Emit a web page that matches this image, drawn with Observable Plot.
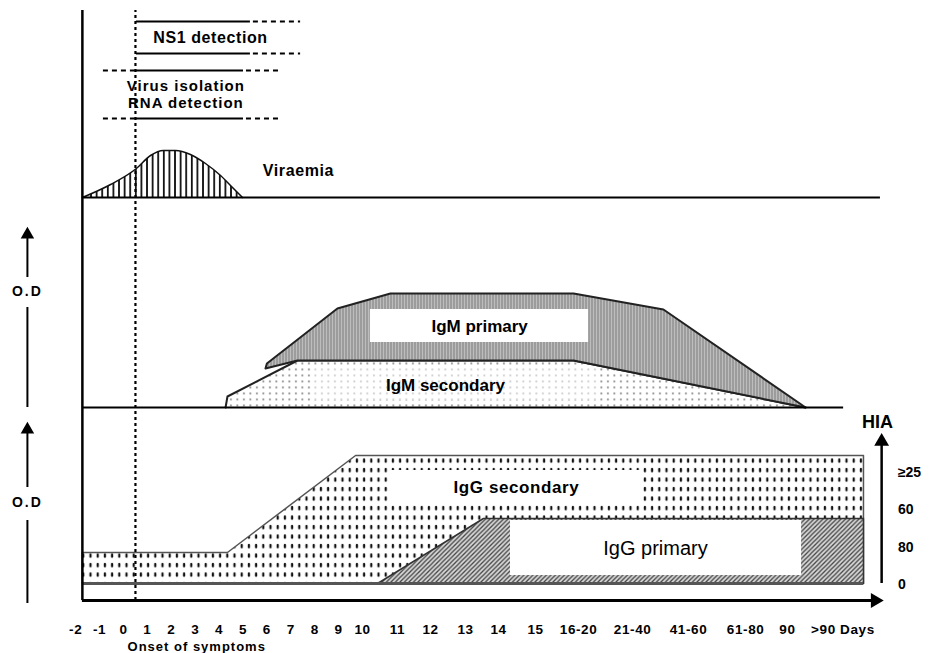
<!DOCTYPE html>
<html><head><meta charset="utf-8">
<script src="https://cdn.jsdelivr.net/npm/d3@7"></script>
<script src="https://cdn.jsdelivr.net/npm/@observablehq/plot@0.6"></script>
<style>
html,body{margin:0;padding:0;background:#fff;}
#chart svg{display:block;}
.wide text{letter-spacing:0.6px;}
.wide1 text{letter-spacing:1px;}
.wide2 text{letter-spacing:2px;}
</style></head>
<body>
<svg width="0" height="0" style="position:absolute">
<defs>
<pattern id="hVir" patternUnits="userSpaceOnUse" width="5.6" height="10"><rect width="5.6" height="10" fill="#fff"/><rect x="0" width="1.8" height="10" fill="#111"/></pattern>
<pattern id="hIgMp" patternUnits="userSpaceOnUse" width="3" height="10"><rect width="3" height="10" fill="#bdbdbd"/><rect width="1" height="10" fill="#7a7a7a"/></pattern>
<pattern id="hIgMs" patternUnits="userSpaceOnUse" width="6.5" height="6"><rect width="6.5" height="6" fill="#fff"/><rect x="2" y="2" width="1.8" height="1.8" fill="#8a8a8a"/></pattern>
<pattern id="hIgGs" patternUnits="userSpaceOnUse" width="7.2" height="9.5"><rect width="7.2" height="9.5" fill="#fff"/><rect x="2.5" y="2" width="2.2" height="4.2" rx="0.8" fill="#111"/></pattern>
<pattern id="hIgGp" patternUnits="userSpaceOnUse" width="4.5" height="4.5"><rect width="4.5" height="4.5" fill="#d8d8d8"/><path d="M-1,1 L1,-1 M0,4.5 L4.5,0 M3.5,5.5 L5.5,3.5" stroke="#444" stroke-width="1.3"/></pattern>
</defs></svg>
<div id="chart"></div>
<script>
// ---- x axis (day slots) ----
const dayLabels = ["-2","-1","0","1","2","3","4","5","6","7","8","9","10","11","12","13","14","15","16-20","21-40","41-60","61-80","90",">90 Days"];
const dayPos = [-2,-1,0,1,2,3,4,5,6,7,8,9,10,11.46,12.85,14.31,15.69,17.24,19.04,21.30,23.64,26.03,27.78,30.1];
const onsetDay = 0.5;

// ---- HIA titre axis ----
const hiaLabels = ["≥25","60","80","0"];
const hiaLevels = [12.8, 9.1, 5.3, 1.6];

// ---- panel baselines ----
const viraemiaBase = 40.3;
const igmBase = 19.3;
const iggBase = 1.7;

// ---- Viraemia ----
const viraemiaDay = [-1.72,-0.54,0.54,1.13,1.67,2.18,2.80,3.43,4.06,4.56,4.98];
const viraemiaOD  = [0,1.3,2.9,4.2,4.7,4.7,4.3,3.4,2.2,1.0,0];

// ---- IgM ----
const igmSecDay = [4.27,4.35,7.28,18.83,28.54];
const igmSecOD  = [0,1.1,4.7,4.7,0];
const igmPriTopDay = [5.94,6.0,8.95,11.17,18.83,22.59,28.54];
const igmPriTopOD  = [3.9,4.4,9.9,11.4,11.4,9.8,0];
const igmPriBotDay = [5.94,7.28,18.83,28.54];
const igmPriBotOD  = [3.9,4.7,4.7,0];

// ---- IgG ----
const iggSecDay = [-1.72,-1.72,4.35,9.71,30.96,30.96];
const iggSecLvl = [0,3.1,3.1,12.8,12.8,0];
const iggPriDay = [10.63,15.06,30.96,30.96];
const iggPriLvl = [0,6.5,6.5,0];

// ---- detection windows (solid = certain, dashed = possible) ----
const ns1Solid = [0.54,5.31], ns1Dash = [5.31,7.41], ns1Levels = [57.9,54.7];
const virSolid = [0.54,5.02], virDashL = [-0.84,0.54], virDashR = [5.02,6.65], virLevels = [53.0,48.2];

const pts = (xs, ys, base) => xs.map((x,i)=>({x, y: base + ys[i]}));
const igmPriPoly = pts(igmPriTopDay, igmPriTopOD, igmBase).concat(pts(igmPriBotDay, igmPriBotOD, igmBase).reverse());

const axX = -1.72, axTop = 59, xEnd = 31.67, hiaX = 31.72, odX = -4.02;
const lbl = (t, x, y, o={}) => Plot.text([t], {x: ()=>x, y: ()=>y, text: d=>d, fill:"#000", fontWeight:"bold", fontSize:16, ...o});

const marks = [
  // IgG
  Plot.line(pts(iggSecDay, iggSecLvl, iggBase), {x:"x", y:"y", fill:"url(#hIgGs)", stroke:"#555", strokeWidth:1.5, curve:"linear-closed"}),
  Plot.line(pts(iggPriDay, iggPriLvl, iggBase), {x:"x", y:"y", fill:"url(#hIgGp)", stroke:"#333", strokeWidth:1.5, curve:"linear-closed"}),
  Plot.rect([0], {x1:()=>11.17, x2:()=>21.63, y1:()=>9.7, y2:()=>13.0, fill:"#fff"}),
  Plot.rect([0], {x1:()=>16.19, x2:()=>28.37, y1:()=>2.5, y2:()=>8.0, fill:"#fff"}),
  Plot.ruleY([iggBase], {x1:axX, x2:30.96, stroke:"#555", strokeWidth:3}),
  // IgM
  Plot.line(pts(igmSecDay, igmSecOD, igmBase), {x:"x", y:"y", fill:"url(#hIgMs)", stroke:"#222", strokeWidth:2}),
  Plot.line(igmPriPoly, {x:"x", y:"y", fill:"url(#hIgMp)", stroke:"#222", strokeWidth:2, curve:"linear-closed"}),
  Plot.rect([0], {x1:()=>10.33, x2:()=>19.46, y1:()=>25.8, y2:()=>29.1, fill:"#fff"}),
  Plot.rect([0], {x1:()=>7.95, x2:()=>19.96, y1:()=>20.0, y2:()=>23.2, fill:"#fff", fillOpacity:0.55}),
  // Viraemia
  Plot.line(pts(viraemiaDay, viraemiaOD, viraemiaBase), {x:"x", y:"y", fill:"url(#hVir)", stroke:"#111", strokeWidth:1.5, curve:"monotone-x"}),
  // baselines
  Plot.ruleY([viraemiaBase], {x1:axX, x2:xEnd, stroke:"#000", strokeWidth:2}),
  Plot.ruleY([igmBase], {x1:axX, x2:30.13, stroke:"#000", strokeWidth:2}),
  // axes
  Plot.ruleX([axX], {y1:0, y2:axTop, stroke:"#000", strokeWidth:2.5}),
  Plot.ruleY([0], {x1:axX, x2:31.3, stroke:"#000", strokeWidth:3}),
  Plot.dot([0], {x:()=>31.45, y:()=>0, symbol:"triangle", r:5.5, fill:"#000", rotate:90}),
  Plot.ruleX([hiaX], {y1:iggBase, y2:15.8, stroke:"#000", strokeWidth:2.5}),
  Plot.dot([0], {x:()=>hiaX, y:()=>15.9, symbol:"triangle", r:5.5, fill:"#000"}),
  // O.D arrows
  Plot.ruleX([odX], {y1:32.3, y2:36.3, stroke:"#000", strokeWidth:2}),
  Plot.ruleX([odX], {y1:19.3, y2:29.3, stroke:"#000", strokeWidth:2}),
  Plot.dot([0], {x:()=>odX, y:()=>36.6, symbol:"triangle", r:5, fill:"#000"}),
  Plot.ruleX([odX], {y1:11.3, y2:16.8, stroke:"#000", strokeWidth:2}),
  Plot.ruleX([odX], {y1:-0.3, y2:8.0, stroke:"#000", strokeWidth:2}),
  Plot.dot([0], {x:()=>odX, y:()=>17.1, symbol:"triangle", r:5, fill:"#000"}),
  // onset line
  Plot.ruleX([onsetDay], {y1:0, y2:axTop, stroke:"#000", strokeWidth:2.2, strokeDasharray:"3,3"}),
  // detection windows
  Plot.ruleY(ns1Levels, {x1:ns1Solid[0], x2:ns1Solid[1], stroke:"#000", strokeWidth:2}),
  Plot.ruleY(ns1Levels, {x1:ns1Dash[0], x2:ns1Dash[1], stroke:"#000", strokeWidth:2, strokeDasharray:"5,4", strokeDashoffset:-3}),
  Plot.ruleY(virLevels, {x1:virSolid[0], x2:virSolid[1], stroke:"#000", strokeWidth:2}),
  Plot.ruleY(virLevels, {x1:virDashL[0], x2:virDashL[1], stroke:"#000", strokeWidth:2, strokeDasharray:"5,4"}),
  Plot.ruleY(virLevels, {x1:virDashR[0], x2:virDashR[1], stroke:"#000", strokeWidth:2, strokeDasharray:"5,4", strokeDashoffset:-3}),
  // texts
  lbl("NS1 detection", 3.64, 56.3, {className:"wide"}),
  lbl("Virus isolation", 2.61, 51.45, {fontSize:15, className:"wide1"}),
  lbl("RNA detection", 2.61, 49.75, {fontSize:15, className:"wide1"}),
  lbl("Viraemia", 7.32, 43.0, {className:"wide"}),
  lbl("IgM primary", 14.9, 27.4, {fontSize:17}),
  lbl("IgM secondary", 13.47, 21.5, {fontSize:17}),
  lbl("IgG secondary", 16.44, 11.3, {fontSize:17, className:"wide"}),
  lbl("IgG primary", 22.26, 5.2, {fontSize:20, fontWeight:"normal"}),
  lbl("HIA", 31.55, 17.8, {fontSize:18}),
  lbl("O.D", odX, 30.9, {fontSize:14, className:"wide2"}),
  lbl("O.D", odX, 9.8, {fontSize:14, className:"wide2"}),
  Plot.text(hiaLabels, {x:()=>32.4, y:(d,i)=>hiaLevels[i], text:d=>d, textAnchor:"start", fontWeight:"bold", fontSize:14, fill:"#000"}),
  Plot.text(dayLabels, {x:(d,i)=>dayPos[i], y:()=>-2.9, text:d=>d, fontWeight:"bold", fontSize:13.5, fill:"#000", className:"wide"}),
  lbl("Onset of symptoms", 0.17, -4.65, {fontSize:13, textAnchor:"start", className:"wide1"})
];

const chart = Plot.plot({
  width: 933, height: 653, margin: 0,
  x: {domain: [-5.146, 33.89], axis: null},
  y: {domain: [-5.3, 60], axis: null},
  style: {fontFamily: "'Liberation Sans', Arial, sans-serif", background: "#fff"},
  marks
});
document.getElementById("chart").append(chart);
</script>
</body></html>
